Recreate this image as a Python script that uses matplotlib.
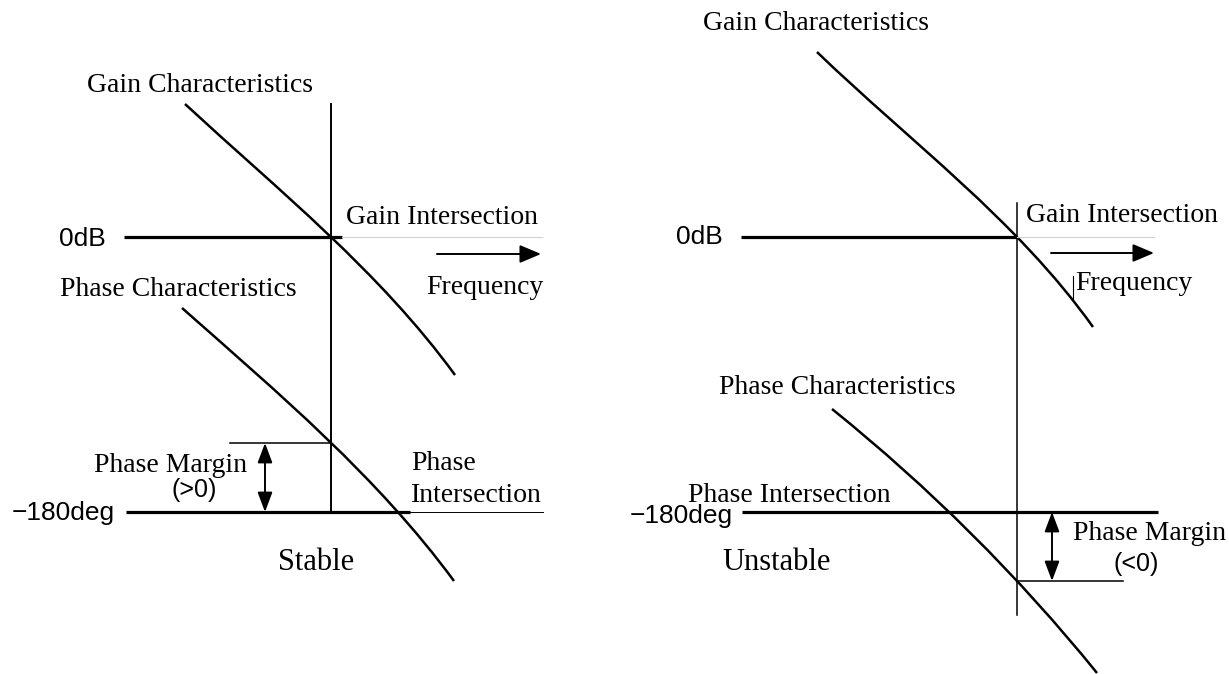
import matplotlib
matplotlib.use("Agg")
import matplotlib.pyplot as plt
import numpy as np
from matplotlib.path import Path
from matplotlib.patches import PathPatch

# ---- data (diagram coordinates, pixel space of the original figure) ----
# Left panel (stable)
L_gain_x = [185, 258, 331, 411, 455]
L_gain_y = [104, 170, 237, 320, 375]
L_phase_x = [182, 258, 331, 398, 454]
L_phase_y = [308, 375, 443, 512, 581]
L_cross_x = 331          # gain crossover frequency
L_zero_db_y = 237
L_m180_y = 512
L_margin_y = 443

# Right panel (unstable)
R_gain_x = [817, 917, 1017, 1093]
R_gain_y = [52, 143, 237, 327]
R_phase_x = [832, 949, 1017, 1097]
R_phase_y = [409, 512, 581, 673]
R_cross_x = 1017
R_zero_db_y = 237
R_m180_y = 512
R_margin_y = 581

SERIF = ["Liberation Serif", "DejaVu Serif"]
SANS = ["Liberation Sans", "DejaVu Sans"]

fig = plt.figure(figsize=(12.29, 6.74), dpi=100)
ax = fig.add_axes([0, 0, 1, 1])
ax.set_xlim(0, 1229)
ax.set_ylim(674, 0)
ax.axis("off")

K = "black"
GRAY = "#d0d0d0"


def smooth_curve(xs, ys, lw=1.8):
    """Draw one smooth cubic Bezier fitted (least squares) through the points."""
    P = np.column_stack([xs, ys]).astype(float)
    d = np.r_[0, np.cumsum(np.hypot(*np.diff(P, axis=0).T))]
    t = d / d[-1]
    P0, P3 = P[0], P[-1]
    b0 = (1 - t) ** 3
    b1 = 3 * t * (1 - t) ** 2
    b2 = 3 * t ** 2 * (1 - t)
    b3 = t ** 3
    A = np.column_stack([b1, b2])
    R = P - np.outer(b0, P0) - np.outer(b3, P3)
    C, *_ = np.linalg.lstsq(A, R, rcond=None)
    verts = [tuple(P0), tuple(C[0]), tuple(C[1]), tuple(P3)]
    codes = [Path.MOVETO, Path.CURVE4, Path.CURVE4, Path.CURVE4]
    ax.add_patch(PathPatch(Path(verts, codes), fill=False, edgecolor=K,
                           lw=lw, capstyle="butt"))


def arrow(x0, y0, x1, y1, style):
    ax.annotate("", xy=(x1, y1), xytext=(x0, y0),
                arrowprops=dict(arrowstyle=style, color=K, lw=1.4,
                                shrinkA=0, shrinkB=0, mutation_scale=10))

# ================= Left panel =================
smooth_curve(L_gain_x, L_gain_y)
smooth_curve(L_phase_x, L_phase_y)
ax.plot([L_cross_x, L_cross_x], [104, L_m180_y], color=K, lw=1.4)
# 0dB line
ax.plot([124, 342], [L_zero_db_y, L_zero_db_y], color=K, lw=2.3, solid_capstyle="butt")
ax.plot([342, 542], [L_zero_db_y, L_zero_db_y], color=GRAY, lw=0.8)
# -180deg line
ax.plot([126, 410], [L_m180_y, L_m180_y], color=K, lw=2.3, solid_capstyle="butt")
ax.plot([410, 543], [L_m180_y, L_m180_y], color=K, lw=0.7)
# phase margin
ax.plot([230, L_cross_x], [L_margin_y, L_margin_y], color=K, lw=1.1)
arrow(265, L_margin_y, 265, L_m180_y, "<|-|>,head_length=1.2,head_width=0.45")
# frequency arrow
arrow(437, 254, 541, 254, "-|>,head_length=1.3,head_width=0.55")

ax.text(200, 85, "Gain Characteristics", family=SERIF, fontsize=20, ha="center", va="center")
ax.text(442, 218, "Gain Intersection", family=SERIF, fontsize=20, ha="center", va="center")
ax.text(485, 287, "Frequency", family=SERIF, fontsize=20, ha="center", va="center")
ax.text(82, 239, "0dB", family=SANS, fontsize=19, ha="center", va="center")
ax.text(178, 290, "Phase Characteristics", family=SERIF, fontsize=20, ha="center", va="center")
ax.text(171, 465, "Phase Margin", family=SERIF, fontsize=20, ha="center", va="center")
ax.text(194, 490, "(>0)", family=SANS, fontsize=18, ha="center", va="center")
ax.text(63, 513, "\u2212180deg", family=SANS, fontsize=19, ha="center", va="center")
ax.text(411, 463, "Phase", family=SERIF, fontsize=20, ha="left", va="center")
ax.text(411, 495, "Intersection", family=SERIF, fontsize=20, ha="left", va="center")
ax.text(316, 563, "Stable", family=SERIF, fontsize=22, ha="center", va="center")

# ================= Right panel =================
smooth_curve(R_gain_x, R_gain_y)
smooth_curve(R_phase_x, R_phase_y)
ax.plot([R_cross_x, R_cross_x], [203, 615], color=K, lw=1.1)
# 0dB line
ax.plot([741, R_cross_x], [R_zero_db_y, R_zero_db_y], color=K, lw=2.3, solid_capstyle="butt")
ax.plot([R_cross_x, 1154], [R_zero_db_y, R_zero_db_y], color=GRAY, lw=0.8)
# -180deg line
ax.plot([742, 1158], [R_m180_y, R_m180_y], color=K, lw=2.3, solid_capstyle="butt")
# phase margin
ax.plot([R_cross_x, 1123], [R_margin_y, R_margin_y], color=K, lw=1.1)
arrow(1052, R_m180_y, 1052, R_margin_y, "<|-|>,head_length=1.2,head_width=0.45")
# frequency arrow and small tick
arrow(1051, 253, 1154, 253, "-|>,head_length=1.3,head_width=0.55")
ax.plot([1073, 1073], [276, 300], color=K, lw=0.8)

ax.text(816, 23, "Gain Characteristics", family=SERIF, fontsize=20, ha="center", va="center")
ax.text(1122, 216, "Gain Intersection", family=SERIF, fontsize=20, ha="center", va="center")
ax.text(1134, 283, "Frequency", family=SERIF, fontsize=20, ha="center", va="center")
ax.text(699, 237, "0dB", family=SANS, fontsize=19, ha="center", va="center")
ax.text(837, 388, "Phase Characteristics", family=SERIF, fontsize=20, ha="center", va="center")
ax.text(681, 516, "\u2212180deg", family=SANS, fontsize=19, ha="center", va="center")
ax.text(688, 496, "Phase Intersection", family=SERIF, fontsize=20, ha="left", va="center")
ax.text(777, 562, "Unstable", family=SERIF, fontsize=22, ha="center", va="center")
ax.text(1073, 533, "Phase Margin", family=SERIF, fontsize=20, ha="left", va="center")
ax.text(1136, 564, "(<0)", family=SANS, fontsize=18, ha="center", va="center")

fig.savefig("out.png", dpi=100)
